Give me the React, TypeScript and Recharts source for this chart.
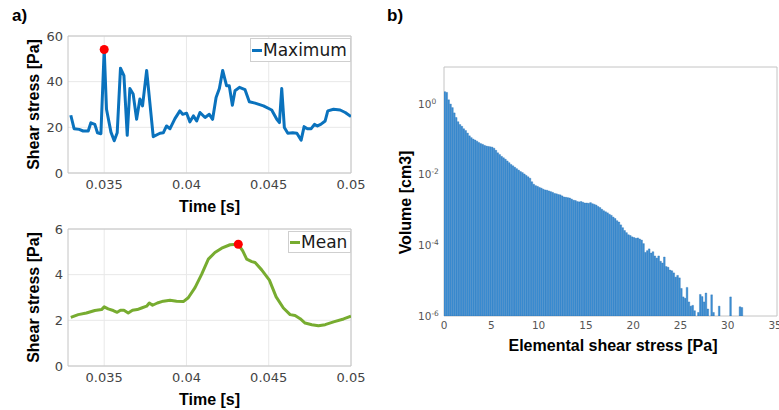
import React from 'react';
import {
  LineChart, Line, XAxis, YAxis, CartesianGrid, ReferenceArea, ReferenceDot,
  Legend, BarChart, Bar, Label,
} from 'recharts';

// ---------- Panel a: Maximum shear stress ----------
const maxTime = [
  0.03297, 0.03317, 0.03348, 0.03372, 0.03403, 0.03419, 0.03443, 0.03459, 0.0348, 0.035,
  0.03514, 0.03541, 0.03561, 0.03579, 0.03599, 0.0362, 0.0364, 0.03656, 0.03676, 0.03697,
  0.03717, 0.03733, 0.03758, 0.03798, 0.03839, 0.03859, 0.03879, 0.039, 0.0393, 0.0396,
  0.03977, 0.04001, 0.04021, 0.04042, 0.04062, 0.04082, 0.04113, 0.04139, 0.04159, 0.0418,
  0.042, 0.0422, 0.04244, 0.0426, 0.04279, 0.04295, 0.04322, 0.04356, 0.04382, 0.04417,
  0.04468, 0.04518, 0.04549, 0.04565, 0.04579, 0.04595, 0.04616, 0.04646, 0.04671, 0.04697,
  0.04715, 0.04735, 0.04758, 0.04778, 0.04796, 0.04816, 0.04843, 0.04859, 0.04894, 0.04934,
  0.04965, 0.05,
];
const maxStress = [
  25.3, 19.4, 19.1, 18.4, 18.4, 22, 21.3, 17.6, 17.2, 54.1,
  27.9, 17.9, 14.1, 17.6, 45.9, 42.6, 16.5, 37, 34.6, 23.5,
  32.4, 29.4, 44.9, 15.9, 17.4, 17.6, 20.6, 19.4, 23.8, 27.2,
  25.7, 26.2, 22.4, 25, 22.8, 26.5, 24.3, 25.7, 23.5, 33.1,
  37, 44.9, 38.2, 38.2, 29.7, 36, 37.5, 36.5, 31.2, 30.6,
  29.4, 27.6, 23.5, 22.1, 37, 19.9, 17.4, 17.6, 17.4, 14.4,
  20.3, 19.4, 19.4, 21.3, 20.6, 21.3, 22.8, 27.2, 27.9, 27.6,
  26.5, 24.7,
];
const maxPeak = { t: 0.035, v: 54.1 };
const maxTicks = [0, 20, 40, 60];

// ---------- Panel a: Mean shear stress ----------
const meanTime = [
  0.03297, 0.03342, 0.03392, 0.03443, 0.03484, 0.035, 0.03524, 0.03555, 0.03579, 0.03599,
  0.0362, 0.03646, 0.03672, 0.03701, 0.03727, 0.03758, 0.03774, 0.03794, 0.03823, 0.03859,
  0.039, 0.0394, 0.03981, 0.04011, 0.04052, 0.04092, 0.04133, 0.04173, 0.04214, 0.04265,
  0.04315, 0.04342, 0.04366, 0.04397, 0.04417, 0.04457, 0.04504, 0.04545, 0.04589, 0.0463,
  0.0466, 0.04691, 0.04721, 0.04762, 0.04802, 0.04843, 0.04894, 0.04955, 0.05,
];
const meanStress = [
  2.13, 2.25, 2.32, 2.43, 2.47, 2.59, 2.5, 2.43, 2.35, 2.44,
  2.44, 2.32, 2.44, 2.47, 2.54, 2.62, 2.76, 2.66, 2.76, 2.84,
  2.88, 2.84, 2.82, 2.99, 3.43, 4.01, 4.68, 4.97, 5.16, 5.31,
  5.33, 5.04, 4.68, 4.57, 4.53, 4.21, 3.76, 3.03, 2.54, 2.25,
  2.21, 2.07, 1.88, 1.81, 1.76, 1.81, 1.93, 2.06, 2.18,
];
const meanPeak = { t: 0.04315, v: 5.33 };
const meanTicks = [0, 2, 4, 6];

const timeDomain = [0.0328, 0.05];
const timeTicks = [0.035, 0.04, 0.045, 0.05];

// ---------- Panel b: histogram ----------
const binWidth = 0.2;
const volumes = [
  2.24, 2.14, 1.32, 1.0, 0.794, 0.562, 0.417, 0.316, 0.263, 0.234,
  0.2, 0.178, 0.151, 0.126, 0.112, 0.102, 0.0955, 0.0891, 0.081, 0.0759,
  0.0724, 0.0676, 0.0646, 0.0631, 0.0617, 0.0603, 0.0562, 0.049, 0.0417, 0.0372,
  0.0331, 0.0302, 0.0275, 0.0245, 0.0219, 0.0195, 0.0178, 0.0162, 0.0148, 0.0135,
  0.0123, 0.0115, 0.0105, 0.00955, 0.00871, 0.00794, 0.00631, 0.00537, 0.0049, 0.00468,
  0.00437, 0.00417, 0.00389, 0.00372, 0.00363, 0.00347, 0.00331, 0.00316, 0.00295, 0.00288,
  0.00275, 0.00269, 0.00251, 0.00234, 0.00229, 0.00224, 0.00219, 0.00204, 0.0019, 0.00186,
  0.00174, 0.0017, 0.00174, 0.00166, 0.00158, 0.00158, 0.00155, 0.00162, 0.00151, 0.00145,
  0.00138, 0.00126, 0.00117, 0.00105, 9.55e-4, 8.91e-4, 8.32e-4, 7.59e-4, 7.08e-4, 6.31e-4,
  5.75e-4, 5.01e-4, 4.57e-4, 3.8e-4, 3.16e-4, 2.63e-4, 2.29e-4, 2.0e-4, 1.9e-4, 1.74e-4,
  1.66e-4, 1.58e-4, 1.62e-4, 1.51e-4, 1.41e-4, 1.12e-4, 6.31e-5, 7.08e-5, 7.94e-5, 6.03e-5,
  6.61e-5, 5.01e-5, 4.37e-5, 5.01e-5, 3.55e-5, 3.16e-5, 4.68e-5, 2.51e-5, 2.4e-5, 2.0e-5,
  1.9e-5, 1.66e-5, 1.26e-5, 1.41e-5, 1.2e-5, 6.03e-6, 3.47e-6, 3.16e-6, 6.46e-6, 2.51e-6,
  1.9e-6, 2.0e-6, 1.41e-6, null, 1.26e-6, 4.07e-6, 3.55e-6, 2.51e-6, 4.47e-6, 1.58e-6,
  null, 3.98e-6, 1.26e-6, null, null, 1.9e-6, null, null, null, null,
  null, 3.47e-6, null, null, null, null, 1.82e-6, 1.74e-6,
];
const stressTicks = [0, 5, 10, 15, 20, 25, 30, 35];
const volumeTicks = [1e-6, 1e-4, 1e-2, 1];
const stressDomain = [0, 35.2];
const volumeDomain = [1e-6, 11.2];

// ---------- styling ----------
const TICK_FONT = "'DejaVu Sans', Verdana, sans-serif";
const LABEL_FONT = "'Liberation Sans', Arial, sans-serif";
const BLUE = '#0a72bd';
const GREEN = '#77ac30';
const BOX = '#c4c4c4';
const GRID = '#e8e8e8';

const maxData = maxTime.map((t, i) => ({ t, v: maxStress[i] }));
const meanData = meanTime.map((t, i) => ({ t, v: meanStress[i] }));
const histData = volumes.map((v, i) => ({ x: i * binWidth + binWidth / 2, v }));

const tickStyle = { fontFamily: TICK_FONT, fontSize: 13, fill: '#444' };

const YTitle = (text: string, cx: number, shift = 0) => (props: any) => {
  const vb = props.viewBox || {};
  const cy = (vb.y || 0) + (vb.height || 0) / 2 + shift;
  return (
    <text x={cx} y={cy} transform={`rotate(-90 ${cx} ${cy})`} textAnchor="middle"
      dominantBaseline="central" fontFamily={LABEL_FONT} fontWeight="bold" fontSize={16} fill="#000">
      {text}
    </text>
  );
};

const XTitle = (text: string, dy: number, dx = 0) => (props: any) => {
  const vb = props.viewBox || {};
  const cx = (vb.x || 0) + (vb.width || 0) / 2 + dx;
  const cy = (vb.y || 0) + dy;
  return (
    <text x={cx} y={cy} textAnchor="middle" dominantBaseline="central"
      fontFamily={LABEL_FONT} fontWeight="bold" fontSize={16} fill="#000">
      {text}
    </text>
  );
};

const LegendBox = ({ color, label, width, height, lineW }: any) => (
  <div style={{
    display: 'flex', alignItems: 'center', width, height, boxSizing: 'border-box',
    border: '1px solid #cfcfcf', background: '#fff', fontFamily: TICK_FONT, fontSize: 17,
    color: '#1a1a1a', lineHeight: 1,
  }}>
    <span style={{ display: 'inline-block', width: lineW, height: 3, background: color, marginLeft: 1, marginRight: 1 }} />
    <span>{label}</span>
  </div>
);

const LogTick = (props: any) => {
  const { x, y, payload } = props;
  const exp = Math.round(Math.log10(payload.value));
  return (
    <text x={x - 22} y={y} dy="0.35em" textAnchor="start" fontFamily={TICK_FONT} fontSize={10.5} fill="#555">
      10<tspan dy="-0.55em" fontSize={7.5}>{exp}</tspan>
    </text>
  );
};

const LinePanel = ({ data, color, yDomain, yTicks, peak, legendLabel, legendLeft, legendWidth, legendHeight, lineW }: any) => (
  <LineChart width={380} height={220} data={data} margin={{ top: 36, right: 29, left: 0, bottom: 0 }}>
    <CartesianGrid stroke={GRID} horizontalValues={yTicks} verticalValues={timeTicks} />
    <ReferenceArea x1={timeDomain[0]} x2={timeDomain[1]} y1={yDomain[0]} y2={yDomain[1]}
      fill="none" stroke={BOX} strokeWidth={1} ifOverflow="extendDomain" />
    <XAxis type="number" dataKey="t" domain={timeDomain} ticks={timeTicks} allowDataOverflow
      height={47} axisLine={false} tickLine={false} tickSize={5} tickMargin={2} tick={tickStyle}
      interval={0}>
      <Label content={XTitle('Time [s]', 33)} />
    </XAxis>
    <YAxis type="number" domain={yDomain} ticks={yTicks} allowDataOverflow width={68}
      axisLine={false} tickLine={false} tickSize={3} tickMargin={2} tick={tickStyle} interval={0}>
      <Label content={YTitle('Shear stress [Pa]', 33)} />
    </YAxis>
    <Line type="linear" dataKey="v" name={legendLabel} stroke={color} strokeWidth={3} dot={false}
      isAnimationActive={false} strokeLinejoin="round" />
    <ReferenceDot x={peak.t} y={peak.v} r={4.5} fill="#ff0000" stroke="none" />
    <Legend layout="vertical" align="center" verticalAlign="middle"
      wrapperStyle={{ left: legendLeft, top: 38, width: legendWidth, height: legendHeight, right: 'auto', bottom: 'auto' }}
      content={() => <LegendBox color={color} label={legendLabel} width={legendWidth} height={legendHeight} lineW={lineW} />} />
  </LineChart>
);

export default function App() {
  return (
    <div style={{ position: 'absolute', left: 0, top: 0, width: 779, height: 410, background: '#fff', overflow: 'hidden' }}>
      <div style={{ position: 'absolute', left: 12, top: 6, fontFamily: LABEL_FONT, fontWeight: 'bold', fontSize: 17 }}>a)</div>
      <div style={{ position: 'absolute', left: 387, top: 6, fontFamily: LABEL_FONT, fontWeight: 'bold', fontSize: 17 }}>b)</div>

      <div style={{ position: 'absolute', left: 0, top: 0 }}>
        <LinePanel data={maxData} color={BLUE} yDomain={[0, 60]} yTicks={maxTicks} peak={maxPeak}
          legendLabel="Maximum" legendLeft={250} legendWidth={101} legendHeight={24} lineW={10} />
      </div>
      <div style={{ position: 'absolute', left: 0, top: 193 }}>
        <LinePanel data={meanData} color={GREEN} yDomain={[0, 6]} yTicks={meanTicks} peak={meanPeak}
          legendLabel="Mean" legendLeft={288} legendWidth={63} legendHeight={22} lineW={10} />
      </div>

      <div style={{ position: 'absolute', left: 380, top: 0 }}>
        <BarChart width={399} height={410} data={histData} margin={{ top: 67, right: 2, left: 0, bottom: 0 }}
          barCategoryGap={0} barGap={0}>
          <ReferenceArea x1={stressDomain[0]} x2={stressDomain[1]} y1={volumeDomain[0]} y2={volumeDomain[1]}
            fill="none" stroke={BOX} strokeWidth={1} />
          <XAxis type="number" dataKey="x" domain={stressDomain} ticks={stressTicks} allowDataOverflow
            height={94} axisLine={false} tickLine={false} tickSize={4} tickMargin={2} interval={0}
            tick={{ fontFamily: TICK_FONT, fontSize: 10.5, fill: '#555' }}>
            <Label content={XTitle('Elemental shear stress [Pa]', 29, 2.5)} />
          </XAxis>
          <YAxis type="number" scale="log" domain={volumeDomain} ticks={volumeTicks} allowDataOverflow
            width={64} axisLine={false} tickLine={false} tickSize={0} tickMargin={4} interval={0}
            tick={<LogTick />}>
            <Label content={YTitle('Volume [cm3]', 25, 11)} />
          </YAxis>
          <Bar dataKey="v" fill="#3d8fd4" stroke="#2a72b5" strokeWidth={0.35} barSize={1.9}
            isAnimationActive={false} />
        </BarChart>
      </div>
    </div>
  );
}
